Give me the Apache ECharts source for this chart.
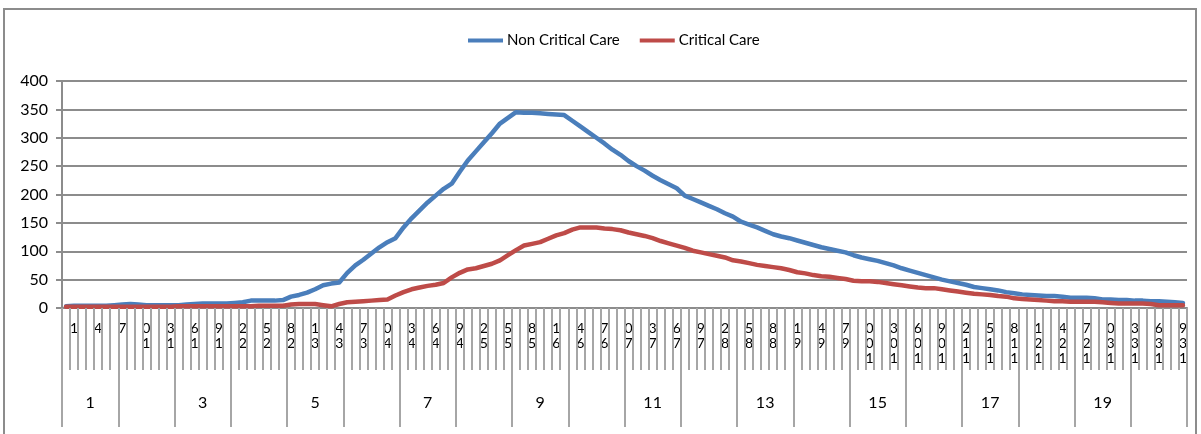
<!DOCTYPE html>
<html>
<head>
<meta charset="utf-8">
<script src="https://cdn.jsdelivr.net/npm/echarts@6/dist/echarts.min.js"></script>
<style>
  html, body { margin: 0; padding: 0; background: #fff; }
  #frame { position: absolute; left: 3px; top: 8px; width: 1194px; height: 440px; border: 2px solid #8c8c8c; box-sizing: border-box; }
  #chart { position: absolute; left: 0; top: 0; width: 1201px; height: 434px; }
</style>
</head>
<body>
<div id="frame"></div>
<div id="chart"></div>
<script>
// Day numbers 0..139 along the lower axis, grouped into 20 weeks
const dayLabels = Array.from({ length: 140 }, (_, i) => String(i));
const weekLabels = Array.from({ length: 20 }, (_, i) => String(i + 1));

// Daily occupancy
const nonCriticalCare = [
  3, 4, 4, 4, 4, 4, 5, 6, 7, 6,
  5, 5, 5, 5, 5, 6, 7, 8, 8, 8,
  8, 9, 10, 13, 13, 13, 13, 14, 20, 23,
  27, 33, 40, 43, 45, 62, 75, 85, 96, 107,
  116, 123, 142, 158, 172, 186, 198, 210, 219, 240,
  260, 276, 292, 308, 325, 335, 345, 344, 344, 343,
  342, 341, 340, 330, 320, 310, 300, 290, 279, 270,
  259, 250, 242, 233, 225, 218, 211, 198, 192, 186,
  180, 174, 167, 161, 152, 147, 142, 136, 130, 126,
  123, 119, 115, 111, 107, 104, 101, 98, 93, 89,
  86, 83, 79, 75, 70, 66, 62, 58, 54, 50,
  47, 44, 41, 37, 35, 33, 31, 28, 26, 24,
  23, 22, 21, 21, 20, 18, 18, 18, 17, 15,
  15, 14, 14, 13, 13, 12, 12, 11, 10, 9
];
const criticalCare = [
  2, 2, 2, 2, 2, 2, 2, 2, 2, 2,
  2, 2, 2, 2, 3, 3, 3, 3, 3, 3,
  3, 3, 3, 3, 4, 4, 4, 4, 6, 7,
  7, 7, 5, 3, 7, 10, 11, 12, 13, 14,
  15, 22, 28, 33, 36, 39, 41, 44, 54, 62,
  68, 70, 74, 78, 84, 93, 102, 110, 113, 116,
  122, 128, 132, 138, 142, 142, 142, 140, 139, 137,
  133, 130, 127, 123, 118, 114, 110, 106, 101, 98,
  95, 92, 89, 84, 82, 79, 76, 74, 72, 70,
  67, 63, 61, 58, 56, 55, 53, 51, 48, 47,
  47, 46, 44, 42, 40, 38, 36, 35, 35, 33,
  31, 29, 27, 25, 24, 23, 21, 20, 17, 16,
  15, 14, 13, 12, 12, 11, 11, 11, 11, 10,
  9, 8, 8, 8, 8, 7, 5, 5, 5, 5
];

const FONT = "Lato, 'Open Sans', sans-serif";
const GRAY = '#8c8c8c';
const TICK_GRAY = '#a6a6a6';

const chart = echarts.init(document.getElementById('chart'), null, { renderer: 'canvas' });

chart.setOption({
  animation: false,
  backgroundColor: 'transparent',
  textStyle: { fontFamily: FONT, color: '#000' },
  legend: {
    top: 28,
    left: 463,
    itemGap: 20,
    itemWidth: 35,
    itemHeight: 4,
    icon: 'rect',
    textStyle: { fontFamily: FONT, fontSize: 15, color: '#000', padding: [0, 0, 0, -1] },
    data: ['Non Critical Care', 'Critical Care']
  },
  grid: { left: 62, right: 14, top: 81, bottom: 126, containLabel: false },
  xAxis: [
    {
      // day labels, digits stacked with the last digit on top
      type: 'category',
      data: dayLabels,
      boundaryGap: true,
      position: 'bottom',
      axisLine: { show: true, lineStyle: { color: GRAY, width: 2 } },
      axisTick: { show: false },
      axisLabel: {
        interval: (idx) => idx % 3 === 1,
        margin: 13,
        fontSize: 14,
        lineHeight: 15,
        color: '#000',
        fontFamily: FONT,
        verticalAlign: 'top',
        formatter: v => v.split('').reverse().join('\n')
      },
      splitLine: { show: false },
      z: 1
    },
    {
      // day tick marks drawn over the labels
      type: 'category',
      data: dayLabels,
      boundaryGap: true,
      position: 'bottom',
      axisLine: { show: false },
      axisTick: { show: true, interval: 0, length: 62, lineStyle: { color: TICK_GRAY, width: 2 } },
      axisLabel: { show: false },
      splitLine: { show: false },
      z: 5
    },
    {
      // week groups
      type: 'category',
      data: weekLabels,
      boundaryGap: true,
      position: 'bottom',
      axisLine: { show: false },
      axisTick: { show: true, interval: 0, length: 119, lineStyle: { color: TICK_GRAY, width: 2 } },
      axisLabel: {
        interval: 1,
        margin: 87,
        fontSize: 16,
        color: '#000',
        fontFamily: FONT
      },
      splitLine: { show: false },
      z: 5
    }
  ],
  yAxis: {
    type: 'value',
    min: 0,
    max: 400,
    interval: 50,
    axisLine: { show: true, lineStyle: { color: GRAY, width: 2 } },
    axisTick: { show: true, length: 6, lineStyle: { color: GRAY, width: 2 } },
    axisLabel: { margin: 14, fontSize: 16, color: '#000', fontFamily: FONT },
    splitLine: { show: true, lineStyle: { color: GRAY, width: 2 } }
  },
  series: [
    {
      name: 'Non Critical Care',
      type: 'line',
      xAxisIndex: 0,
      data: nonCriticalCare,
      showSymbol: false,
      symbol: 'none',
      color: '#4a7ebb',
      lineStyle: { color: '#4a7ebb', width: 4.5, join: 'round', cap: 'round' },
      z: 3
    },
    {
      name: 'Critical Care',
      type: 'line',
      xAxisIndex: 0,
      data: criticalCare,
      showSymbol: false,
      symbol: 'none',
      color: '#be4b48',
      lineStyle: { color: '#be4b48', width: 4.5, join: 'round', cap: 'round' },
      z: 4
    }
  ]
});
</script>
</body>
</html>
